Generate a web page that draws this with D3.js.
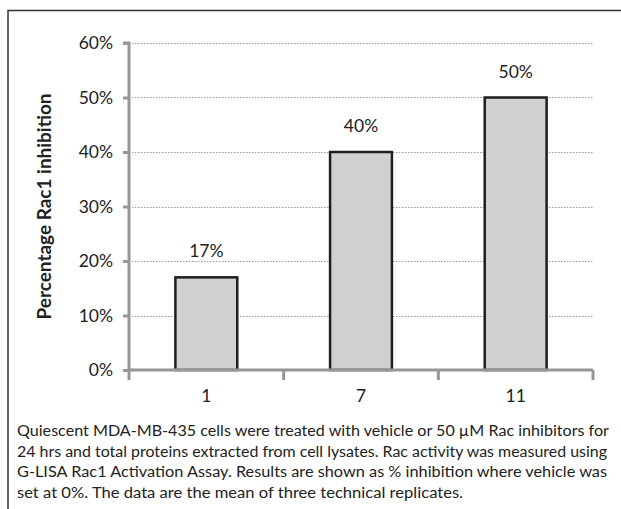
<!DOCTYPE html>
<html>
<head>
<meta charset="utf-8">
<script src="https://cdn.jsdelivr.net/npm/d3@7/dist/d3.min.js"></script>
<style>
  html, body { margin: 0; padding: 0; background: #fff; }
  svg { display: block; }
  text { font-family: Lato, "Open Sans", sans-serif; fill: #222; }
</style>
</head>
<body>
<svg id="chart" width="621" height="509"></svg>
<script>
// Compounds tested and their Rac1 inhibition (fraction of vehicle activity)
const compounds = ["1", "7", "11"];
const inhibition = [0.17, 0.40, 0.50];
const yTicks = [0, 0.1, 0.2, 0.3, 0.4, 0.5, 0.6];
const yTitle = "Percentage Rac1 inhibition";
const captionLines = [
  "Quiescent MDA-MB-435 cells were treated with vehicle or 50 \u00b5M Rac inhibitors for",
  "24 hrs and total proteins extracted from cell lysates. Rac activity was measured using",
  "G-LISA Rac1 Activation Assay. Results are shown as % inhibition where vehicle was",
  "set at 0%. The data are the mean of three technical replicates."
];
// Set widths of the caption lines (text wraps at the frame's right side)
const captionWidths = [592, 590, 590, 446];

const svg = d3.select("#chart");
const pct = d3.format(".0%");

// Outer frame (open to the right and bottom)
svg.append("path")
  .attr("d", "M8,509 V10.5 H621")
  .attr("fill", "none")
  .attr("stroke", "#333")
  .attr("stroke-width", 1.5);

const plot = { left: 129, right: 593, top: 43, bottom: 370 };

const x = d3.scaleBand()
  .domain(compounds)
  .range([plot.left, plot.right])
  .paddingInner(0.6)
  .paddingOuter(0.3);

const y = d3.scaleLinear()
  .domain([0, 0.6])
  .range([plot.bottom, plot.top]);

// Dotted horizontal gridlines
svg.append("g")
  .selectAll("line")
  .data(yTicks.filter(d => d > 0))
  .join("line")
  .attr("x1", plot.left + 3)
  .attr("x2", plot.right)
  .attr("y1", d => Math.round(y(d)) + 0.5)
  .attr("y2", d => Math.round(y(d)) + 0.5)
  .attr("stroke", "#999")
  .attr("stroke-width", 1)
  .attr("stroke-dasharray", "1.5,1.5");

const rows = compounds.map((c, i) => ({ c, v: inhibition[i] }));

// Bars
svg.append("g")
  .selectAll("rect")
  .data(rows)
  .join("rect")
  .attr("x", d => x(d.c))
  .attr("y", d => y(d.v))
  .attr("width", x.bandwidth())
  .attr("height", d => y(0) - y(d.v))
  .attr("fill", "#d0d0d0")
  .attr("stroke", "#1e1e1e")
  .attr("stroke-width", 2.5);

// Value labels above bars
svg.append("g")
  .selectAll("text")
  .data(rows)
  .join("text")
  .attr("x", d => x(d.c) + x.bandwidth() / 2)
  .attr("y", d => y(d.v) - 20)
  .attr("text-anchor", "middle")
  .attr("font-size", 17.5)
  .text(d => pct(d.v));

// Y axis
const yAxis = svg.append("g")
  .attr("transform", `translate(${plot.left},0)`)
  .call(d3.axisLeft(y).tickValues(yTicks).tickFormat(pct).tickSize(6).tickPadding(10));
yAxis.select(".domain")
  .attr("d", `M-6,${plot.top}H0V${plot.bottom}`)
  .attr("stroke", "#969696").attr("stroke-width", 3);
yAxis.selectAll(".tick line").attr("stroke", "#969696").attr("stroke-width", 3);
yAxis.selectAll(".tick text")
  .attr("font-size", 17.5)
  .attr("font-family", "Lato, sans-serif")
  .attr("fill", "#222");

// X axis with ticks at category boundaries
const xAxisG = svg.append("g").attr("transform", `translate(0,${plot.bottom})`);
const boundaries = d3.range(compounds.length + 1)
  .map(i => plot.left + i * (plot.right - plot.left) / compounds.length);
xAxisG.append("line")
  .attr("x1", plot.left).attr("x2", plot.right)
  .attr("stroke", "#969696").attr("stroke-width", 3);
xAxisG.selectAll("line.tk")
  .data(boundaries)
  .join("line")
  .attr("class", "tk")
  .attr("x1", d => d).attr("x2", d => d)
  .attr("y1", 0).attr("y2", 10)
  .attr("stroke", "#969696").attr("stroke-width", 3);
xAxisG.selectAll("text")
  .data(compounds)
  .join("text")
  .attr("x", d => x(d) + x.bandwidth() / 2)
  .attr("y", 32)
  .attr("text-anchor", "middle")
  .attr("font-size", 17.5)
  .text(d => d);

// Y axis title
svg.append("text")
  .attr("transform", `translate(51,${(plot.top + plot.bottom) / 2}) rotate(-90)`)
  .attr("text-anchor", "middle")
  .attr("font-size", 18)
  .attr("font-weight", "bold")
  .attr("textLength", 226)
  .attr("lengthAdjust", "spacingAndGlyphs")
  .text(yTitle);

// Caption
svg.append("g")
  .selectAll("text")
  .data(captionLines)
  .join("text")
  .attr("x", 17)
  .attr("y", (d, i) => 436 + i * 20.6)
  .attr("font-size", 15.5)
  .attr("textLength", (d, i) => captionWidths[i])
  .attr("lengthAdjust", "spacingAndGlyphs")
  .text(d => d);
</script>
</body>
</html>
